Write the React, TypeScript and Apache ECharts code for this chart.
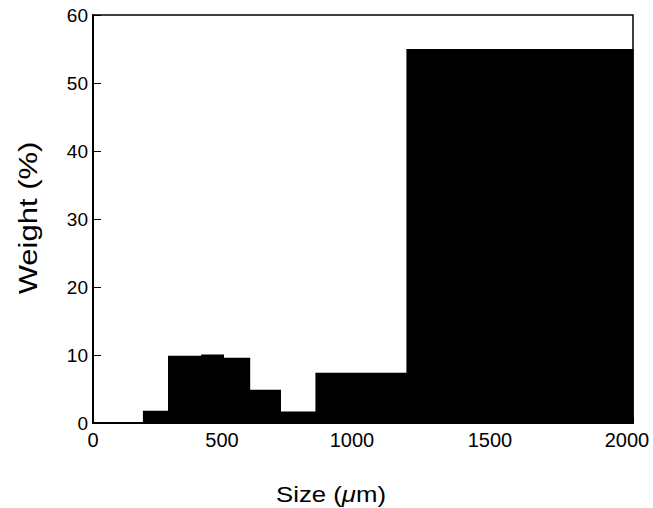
import React, { useEffect, useRef } from "react";
import * as echarts from "echarts";

// Histogram bins (size, µm) and weight (%)
const binStarts = [187, 280, 403, 483, 580, 694, 826, 1163];
const binEnds = [280, 403, 483, 580, 694, 826, 1163, 2000];
const weights = [1.7, 9.8, 10.0, 9.5, 4.8, 1.6, 7.3, 54.9];

const xTicks = [0, 500, 1000, 1500, 2000];
const yTicks = [0, 10, 20, 30, 40, 50, 60];

const xTitle = "Size ({i|\u03bc}m)";
const yTitle = "Weight (%)";

const FONT = '"Liberation Sans", Arial, Helvetica, sans-serif';

// label nudges (rich style keys) so tick labels sit as in the printed figure
const xLabelStyleKey: Record<number, string> = { 0: "p0", 500: "p1", 1000: "p2", 1500: "p3", 2000: "p4" };

export default function App() {
  const ref = useRef<HTMLDivElement>(null);

  useEffect(() => {
    if (!ref.current) return;
    const chart = echarts.init(ref.current, null, { renderer: "svg" });
    const data = binStarts.map((s, i) => [s, binEnds[i], weights[i]]);
    const lbl = { fontSize: 20, fontFamily: FONT, color: "#000" };
    chart.setOption({
      animation: false,
      backgroundColor: "#ffffff",
      grid: {
        left: 93,
        right: 20,
        top: 15,
        bottom: 85,
        outerBoundsMode: "none",
        containLabel: false,
        show: true,
        borderColor: "#000",
        borderWidth: 1.5,
        backgroundColor: "transparent",
      },
      xAxis: {
        type: "value",
        min: xTicks[0],
        max: xTicks[xTicks.length - 1],
        interval: 500,
        axisLine: { show: true, onZero: false, lineStyle: { color: "#000", width: 2 } },
        axisTick: { show: true, inside: true, length: 6, lineStyle: { color: "#000" } },
        axisLabel: {
          color: "#000",
          fontSize: 20,
          fontFamily: FONT,
          margin: 7,
          formatter: (v: number) => `{${xLabelStyleKey[v] || "p0"}|${v}}`,
          rich: {
            p0: { ...lbl },
            p1: { ...lbl, padding: [0, 12, 0, 0] },
            p2: { ...lbl, padding: [0, 22, 0, 0] },
            p3: { ...lbl, padding: [0, 16, 0, 0] },
            p4: { ...lbl, padding: [0, 12, 0, 0] },
          },
        },
        splitLine: { show: false },
      },
      yAxis: {
        type: "value",
        min: yTicks[0],
        max: yTicks[yTicks.length - 1],
        interval: 10,
        axisLine: { show: true, lineStyle: { color: "#000", width: 2 } },
        axisTick: { show: true, inside: true, length: 8, lineStyle: { color: "#000" } },
        axisLabel: {
          color: "#000",
          fontSize: 19,
          fontFamily: FONT,
          margin: 5,
          formatter: (v: number) => String(v),
        },
        splitLine: { show: false },
      },
      graphic: [
        {
          type: "text",
          x: 331,
          y: 494,
          scaleX: 1.12,
          style: {
            x: 0,
            y: 0,
            text: xTitle,
            align: "center",
            verticalAlign: "middle",
            fill: "#000",
            font: `23px ${FONT}`,
            rich: {
              i: { fontStyle: "italic", fontSize: 23, fontFamily: FONT, fill: "#000" },
            },
          },
        },
        {
          type: "text",
          x: 29,
          y: 218,
          rotation: Math.PI / 2,
          scaleX: 1.24,
          style: {
            x: 0,
            y: 0,
            text: yTitle,
            align: "center",
            verticalAlign: "middle",
            fill: "#000",
            font: `25px ${FONT}`,
          },
        },
      ],
      series: [
        {
          type: "custom",
          encode: { x: [0, 1], y: 2 },
          data,
          renderItem: (params: any, api: any) => {
            const p0 = api.coord([api.value(0), api.value(2)]);
            const p1 = api.coord([api.value(1), 0]);
            return {
              type: "rect",
              shape: { x: p0[0], y: p0[1], width: p1[0] - p0[0], height: p1[1] - p0[1] },
              style: { fill: "#000", stroke: "#000", lineWidth: 1.2 },
            };
          },
        },
      ],
    });
    return () => chart.dispose();
  }, []);

  return (
    <div
      ref={ref}
      style={{ position: "fixed", left: 0, top: 0, width: 653, height: 508, background: "#fff" }}
    />
  );
}
